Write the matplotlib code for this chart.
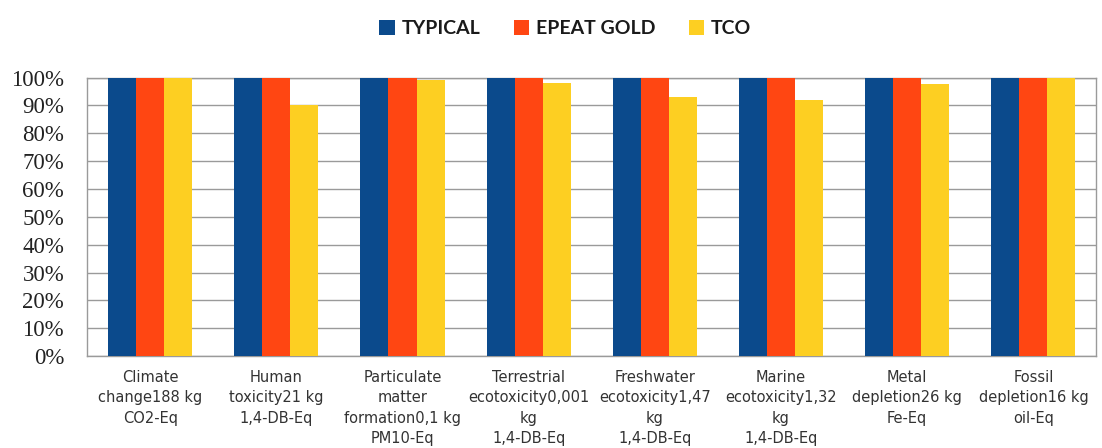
import matplotlib
matplotlib.use("Agg")
import matplotlib.pyplot as plt
import numpy as np
from matplotlib.ticker import PercentFormatter

categories = [
    "Climate\nchange188 kg\nCO2-Eq",
    "Human\ntoxicity21 kg\n1,4-DB-Eq",
    "Particulate\nmatter\nformation0,1 kg\nPM10-Eq",
    "Terrestrial\necotoxicity0,001\nkg\n1,4-DB-Eq",
    "Freshwater\necotoxicity1,47\nkg\n1,4-DB-Eq",
    "Marine\necotoxicity1,32\nkg\n1,4-DB-Eq",
    "Metal\ndepletion26 kg\nFe-Eq",
    "Fossil\ndepletion16 kg\noil-Eq",
]
series_names = ["TYPICAL", "EPEAT GOLD", "TCO"]
typical = [100, 100, 100, 100, 100, 100, 100, 100]
epeat_gold = [100, 100, 100, 100, 100, 100, 100, 100]
tco = [100, 90, 99, 98, 93, 92, 97.5, 100]
y_ticks = [0, 10, 20, 30, 40, 50, 60, 70, 80, 90, 100]

colors = ["#0B4A8C", "#FF4612", "#FDCF22"]

fig = plt.figure(figsize=(11.02, 4.48), dpi=100)
ax = fig.add_axes([0.079, 0.205, 0.916, 0.622])

x = np.arange(len(categories))
w = 0.222
for i, (vals, name, c) in enumerate(zip([typical, epeat_gold, tco], series_names, colors)):
    ax.bar(x + (i - 1) * w, vals, width=w, color=c, label=name, zorder=3)

ax.set_xlim(-0.5, len(categories) - 0.5)
ax.set_ylim(0, 100)
ax.set_yticks(y_ticks)
ax.yaxis.set_major_formatter(PercentFormatter(decimals=0))
ax.grid(axis="y", color="#9a9a9a", linewidth=1.0, zorder=0)
for s in ax.spines.values():
    s.set_color("#9a9a9a")
    s.set_linewidth(1.0)
ax.tick_params(axis="y", length=0, pad=16.5)
ax.tick_params(axis="x", length=0, pad=10)
for lab in ax.get_yticklabels():
    lab.set_fontfamily("Liberation Serif")
    lab.set_fontsize(16.5)
    lab.set_color("#222222")
ax.set_xticks(x)
ax.set_xticklabels(categories, fontfamily="DejaVu Sans", fontsize=10.5,
                   color="#333333", linespacing=1.45)

leg = fig.legend(loc="center", bbox_to_anchor=(0.513, 0.937), ncol=3,
                 frameon=False, handlelength=0.8, handleheight=0.8,
                 handletextpad=0.35, columnspacing=1.7,
                 prop={"family": "Lato", "weight": "bold", "size": 14})
for t in leg.get_texts():
    t.set_color("#1a1a1a")

fig.savefig("out.png", dpi=100)
